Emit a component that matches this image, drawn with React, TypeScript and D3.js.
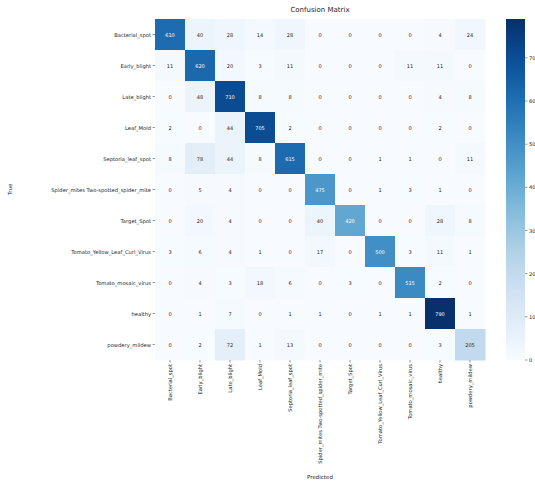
import React, { useEffect, useRef } from 'react';
import * as d3 from 'd3';

const classes = [
  'Bacterial_spot',
  'Early_blight',
  'Late_blight',
  'Leaf_Mold',
  'Septoria_leaf_spot',
  'Spider_mites Two-spotted_spider_mite',
  'Target_Spot',
  'Tomato_Yellow_Leaf_Curl_Virus',
  'Tomato_mosaic_virus',
  'healthy',
  'powdery_mildew',
];

const row0 = [610, 40, 28, 14, 28, 0, 0, 0, 0, 4, 24];
const row1 = [11, 620, 20, 3, 11, 0, 0, 0, 11, 11, 0];
const row2 = [0, 48, 710, 8, 8, 0, 0, 0, 0, 4, 8];
const row3 = [2, 0, 44, 705, 2, 0, 0, 0, 0, 2, 0];
const row4 = [8, 78, 44, 8, 615, 0, 0, 1, 1, 0, 11];
const row5 = [0, 5, 4, 0, 0, 475, 0, 1, 3, 1, 0];
const row6 = [0, 20, 4, 0, 0, 40, 420, 0, 0, 28, 8];
const row7 = [3, 6, 4, 1, 0, 17, 0, 500, 3, 11, 1];
const row8 = [0, 4, 3, 18, 6, 0, 3, 0, 515, 2, 0];
const row9 = [0, 1, 7, 0, 1, 1, 0, 1, 1, 790, 1];
const row10 = [0, 2, 72, 1, 13, 0, 0, 0, 0, 3, 205];

const matrix = [row0, row1, row2, row3, row4, row5, row6, row7, row8, row9, row10];
const colorbarTicks = [0, 100, 200, 300, 400, 500, 600, 700];

const App: React.FC = () => {
  const svgRef = useRef<SVGSVGElement>(null);

  useEffect(() => {
    if (!svgRef.current) return;
    const svg = d3.select(svgRef.current);
    svg.selectAll('*').remove();

    const width = 535;
    const height = 483;
    const left = 155;
    const top = 19;
    const gridW = 330;
    const gridH = 341;
    const font = '"DejaVu Sans", sans-serif';

    svg.append('rect').attr('width', width).attr('height', height).attr('fill', '#fff');

    const maxVal = d3.max(matrix.flat()) || 1;
    const color = (v: number) => d3.interpolateBlues(v / maxVal);

    const x = d3.scaleBand<string>().domain(classes).range([left, left + gridW]);
    const y = d3.scaleBand<string>().domain(classes).range([top, top + gridH]);

    const cells = matrix.flatMap((row, i) => row.map((v, j) => ({ i, j, v })));

    const g = svg.append('g');
    g.selectAll('rect.cell')
      .data(cells)
      .enter()
      .append('rect')
      .attr('class', 'cell')
      .attr('x', d => x(classes[d.j])!)
      .attr('y', d => y(classes[d.i])!)
      .attr('width', x.bandwidth() + 0.5)
      .attr('height', y.bandwidth() + 0.5)
      .attr('fill', d => color(d.v));

    g.selectAll('text.val')
      .data(cells)
      .enter()
      .append('text')
      .attr('class', 'val')
      .attr('x', d => x(classes[d.j])! + x.bandwidth() / 2)
      .attr('y', d => y(classes[d.i])! + y.bandwidth() / 2)
      .attr('text-anchor', 'middle')
      .attr('dominant-baseline', 'central')
      .style('font-family', font)
      .style('font-size', '5px')
      .style('fill', d => (d.v / maxVal > 0.5 ? '#fff' : '#262626'))
      .text(d => d.v);

    // y axis
    const yAxis = svg.append('g');
    classes.forEach(c => {
      const cy = y(c)! + y.bandwidth() / 2;
      yAxis.append('line')
        .attr('x1', left - 2.5).attr('x2', left)
        .attr('y1', cy).attr('y2', cy)
        .attr('stroke', '#333').attr('stroke-width', 0.5);
      yAxis.append('text')
        .attr('x', left - 4)
        .attr('y', cy)
        .attr('text-anchor', 'end')
        .attr('dominant-baseline', 'central')
        .style('font-family', font)
        .style('font-size', '5.2px')
        .style('fill', '#262626')
        .text(c);
    });

    // x axis
    const xAxis = svg.append('g');
    classes.forEach(c => {
      const cx = x(c)! + x.bandwidth() / 2;
      xAxis.append('line')
        .attr('x1', cx).attr('x2', cx)
        .attr('y1', top + gridH).attr('y2', top + gridH + 2.5)
        .attr('stroke', '#333').attr('stroke-width', 0.5);
      xAxis.append('text')
        .attr('transform', `translate(${cx},${top + gridH + 4}) rotate(-90)`)
        .attr('text-anchor', 'end')
        .attr('dominant-baseline', 'central')
        .style('font-family', font)
        .style('font-size', '5.2px')
        .style('fill', '#262626')
        .text(c);
    });

    // labels
    svg.append('text')
      .attr('x', left + gridW / 2)
      .attr('y', 12)
      .attr('text-anchor', 'middle')
      .style('font-family', font)
      .style('font-size', '7px')
      .style('fill', '#262626')
      .text('Confusion Matrix');

    svg.append('text')
      .attr('x', left + gridW / 2)
      .attr('y', 479)
      .attr('text-anchor', 'middle')
      .style('font-family', font)
      .style('font-size', '5.5px')
      .style('fill', '#262626')
      .text('Predicted');

    svg.append('text')
      .attr('transform', `translate(12,${top + gridH / 2}) rotate(-90)`)
      .attr('text-anchor', 'middle')
      .style('font-family', font)
      .style('font-size', '5.5px')
      .style('fill', '#262626')
      .text('True');

    // colorbar
    const cbX = 506;
    const cbW = 19;
    const defs = svg.append('defs');
    const grad = defs.append('linearGradient')
      .attr('id', 'cbgrad')
      .attr('x1', '0%').attr('y1', '100%')
      .attr('x2', '0%').attr('y2', '0%');
    d3.range(0, 1.0001, 0.05).forEach(t => {
      grad.append('stop')
        .attr('offset', `${t * 100}%`)
        .attr('stop-color', d3.interpolateBlues(t));
    });
    svg.append('rect')
      .attr('x', cbX).attr('y', top)
      .attr('width', cbW).attr('height', gridH)
      .attr('fill', 'url(#cbgrad)');

    const cbScale = d3.scaleLinear().domain([0, maxVal]).range([top + gridH, top]);
    colorbarTicks.forEach(t => {
      const ty = cbScale(t);
      svg.append('line')
        .attr('x1', cbX + cbW).attr('x2', cbX + cbW + 2.5)
        .attr('y1', ty).attr('y2', ty)
        .attr('stroke', '#333').attr('stroke-width', 0.5);
      svg.append('text')
        .attr('x', cbX + cbW + 4)
        .attr('y', ty)
        .attr('dominant-baseline', 'central')
        .style('font-family', font)
        .style('font-size', '5.2px')
        .style('fill', '#262626')
        .text(t);
    });
  }, []);

  return (
    <svg
      ref={svgRef}
      width={535}
      height={483}
      style={{ position: 'absolute', left: 0, top: 0 }}
    />
  );
};

export default App;
